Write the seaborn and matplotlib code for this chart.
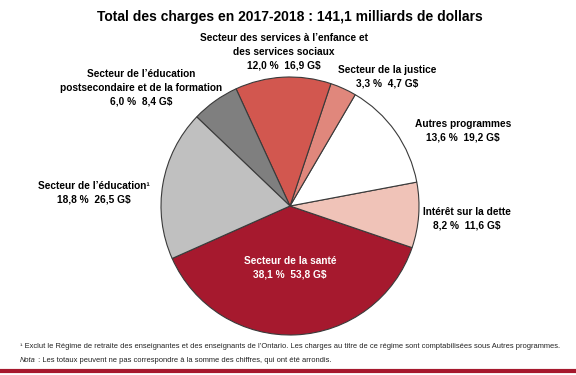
import matplotlib
matplotlib.use("Agg")
import matplotlib.pyplot as plt
import seaborn as sns
from matplotlib import font_manager

sns.set_theme(style="white")
names = {f.name for f in font_manager.fontManager.ttflist}
narrow = "Liberation Sans Narrow" if "Liberation Sans Narrow" in names else "Liberation Sans"
plt.rcParams['font.family'] = [narrow, 'DejaVu Sans']

title = "Total des charges en 2017-2018 : 141,1 milliards de dollars"
categories = ["Secteur de la santé", "Intérêt sur la dette", "Autres programmes",
              "Secteur de la justice",
              "Secteur des services à l’enfance et\ndes services sociaux",
              "Secteur de l’éducation\npostsecondaire et de la formation",
              "Secteur de l’éducation¹"]
percents = [38.1, 8.2, 13.6, 3.3, 12.0, 6.0, 18.8]
amounts = ["53,8", "11,6", "19,2", "4,7", "16,9", "8,4", "26,5"]
colors = ["#A6192E", "#F0C3B8", "#FFFFFF", "#E0877C", "#D2574F", "#7F7F7F", "#C0C0C0"]
footnote1 = "¹ Exclut le Régime de retraite des enseignantes et des enseignants de l’Ontario. Les charges au titre de ce régime sont comptabilisées sous Autres programmes."
footnote2_a = "Nota"
footnote2_b = " : Les totaux peuvent ne pas correspondre à la somme des chiffres, qui ont été arrondis."

W, H = 576, 375
fig = plt.figure(figsize=(W / 100, H / 100), dpi=100)
fig.patch.set_facecolor("white")

cx, cy, r = 290, 206, 129
ax = fig.add_axes([(cx - r) / W, (H - cy - r) / H, 2 * r / W, 2 * r / H])
ax.pie(percents, colors=colors, startangle=-156, counterclock=True,
       wedgeprops=dict(edgecolor="#3a3a3a", linewidth=0.8))
ax.set_xlim(-1, 1)
ax.set_ylim(-1, 1)
ax.set_aspect("equal")
ax.axis("off")

def ftext(x, y, s, **kw):
    return fig.text(x / W, 1 - y / H, s, **kw)

ftext(290, 17, title, ha="center", va="center", fontsize=10, fontweight="bold", color="black")

# label positions (pixels) for each category
label_pos = [(290, 268), (467, 219), (463, 131), (387, 77), (284, 52), (141, 88), (94, 193)]
for i, (name, p, a) in enumerate(zip(categories, percents, amounts)):
    x, y = label_pos[i]
    col = "white" if i == 0 else "black"
    txt = f"{name}\n{p:.1f}".replace(".", ",") + f" %  {a} G$"
    ftext(x, y, txt, ha="center", va="center", fontsize=7.3, fontweight="bold",
          color=col, linespacing=1.45)

ftext(20, 347, footnote1, ha="left", va="center", fontsize=5.4, color="#222222")
t = ftext(20, 360, footnote2_a, ha="left", va="center", fontsize=5.4, color="#222222", style="italic")
fig.canvas.draw()
bb = t.get_window_extent()
fig.text(bb.x1 / W, 1 - 360 / H, footnote2_b, ha="left", va="center", fontsize=5.4, color="#222222")

fig.add_artist(plt.Line2D([0, 1], [1 - 371 / H, 1 - 371 / H], transform=fig.transFigure,
                          color="#A6192E", linewidth=3))

fig.savefig("out.png", dpi=100)
